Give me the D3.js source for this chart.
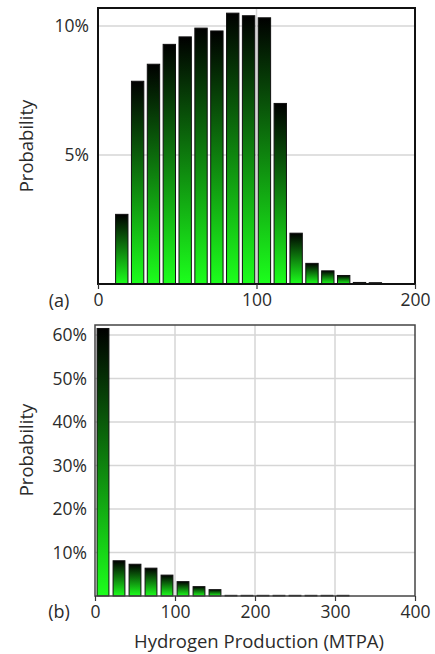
<!DOCTYPE html>
<html>
<head>
<meta charset="utf-8">
<script src="https://cdn.jsdelivr.net/npm/d3@7"></script>
<style>
  html, body { margin: 0; padding: 0; background: #fff; }
  svg { display: block; }
  text { font-family: "Open Sans", "Liberation Sans", sans-serif; fill: #2b2b2b; }
</style>
</head>
<body>
<svg id="chart" width="435" height="654"></svg>
<script>
// ---- Data (panel a) ----
const binStartsA = [10, 20, 30, 40, 50, 60, 70, 80, 90, 100, 110, 120, 130, 140, 150, 160, 170];
const probA = [0.0270, 0.0786, 0.0852, 0.0929, 0.0958, 0.0992, 0.0981, 0.1050, 0.1040, 0.1032,
               0.0700, 0.0197, 0.0080, 0.0051, 0.0033, 0.0006, 0.0005];
const xTicksA = [0, 100, 200];
const yTicksA = [0.05, 0.10];

// ---- Data (panel b) ----
const binStartsB = [0, 20, 40, 60, 80, 100, 120, 140, 160, 180, 200, 220, 240, 260, 280, 300];
const probB = [0.615, 0.081, 0.073, 0.064, 0.048, 0.033, 0.0215, 0.0146,
               0.0015, 0.0015, 0.0015, 0.0015, 0.0015, 0.0015, 0.0015, 0.0015];
const xTicksB = [0, 100, 200, 300, 400];
const yTicksB = [0.1, 0.2, 0.3, 0.4, 0.5, 0.6];

const xTitle = "Hydrogen Production (MTPA)";
const yTitle = "Probability";

const svg = d3.select("#chart");
const defs = svg.append("defs");
const grad = defs.append("linearGradient")
  .attr("id", "barGrad").attr("x1", 0).attr("y1", 0).attr("x2", 0).attr("y2", 1);
grad.append("stop").attr("offset", "0%").attr("stop-color", "#000000");
grad.append("stop").attr("offset", "100%").attr("stop-color", "#1cff1c");

function panel(opt) {
  const x = d3.scaleLinear().domain(opt.xDomain).range([opt.left, opt.right]);
  const y = d3.scaleLinear().domain(opt.yDomain).range([opt.bottom, opt.top]);
  const g = svg.append("g");

  // gridlines
  g.append("g").selectAll("line.h").data(opt.yTicks).join("line")
    .attr("x1", opt.left).attr("x2", opt.right)
    .attr("y1", d => y(d)).attr("y2", d => y(d))
    .attr("stroke", "#d6d6d6").attr("stroke-width", 1.5);
  g.append("g").selectAll("line.v").data(opt.xTicks.slice(1, -1)).join("line")
    .attr("x1", d => x(d)).attr("x2", d => x(d))
    .attr("y1", opt.top).attr("y2", opt.bottom)
    .attr("stroke", "#d6d6d6").attr("stroke-width", 1.5);

  // bars
  g.append("g").selectAll("rect").data(opt.starts).join("rect")
    .attr("x", d => x(d + opt.inset))
    .attr("width", d => x(d + opt.bin - opt.inset) - x(d + opt.inset))
    .attr("y", (d, i) => y(opt.values[i]))
    .attr("height", (d, i) => Math.max(0.5, opt.bottom - y(opt.values[i])))
    .attr("fill", "url(#barGrad)")
    .attr("stroke", "#111").attr("stroke-width", 1);

  // frame
  g.append("rect")
    .attr("x", opt.left).attr("y", opt.top)
    .attr("width", opt.right - opt.left).attr("height", opt.bottom - opt.top)
    .attr("fill", "none").attr("stroke", opt.frameColor).attr("stroke-width", opt.frameWidth);

  // x axis
  const xa = g.append("g").attr("transform", `translate(0,${opt.bottom})`)
    .call(d3.axisBottom(x).tickValues(opt.xTicks).tickSize(5).tickPadding(5).tickFormat(d3.format("d")));
  xa.select(".domain").remove();
  xa.selectAll(".tick line").attr("stroke", "#333").attr("stroke-width", 1.2);
  xa.selectAll("text").attr("font-size", 17.5).attr("fill", "#2b2b2b")
    .style("font-family", '"Open Sans", sans-serif');

  // y axis
  const ya = g.append("g").attr("transform", `translate(${opt.left},0)`)
    .call(d3.axisLeft(y).tickValues(opt.yTicks).tickSize(0).tickPadding(opt.yPad).tickFormat(d3.format(".0%")));
  ya.select(".domain").remove();
  ya.selectAll("text").attr("font-size", 17.5).attr("fill", "#2b2b2b")
    .style("font-family", '"Open Sans", sans-serif');

  // y title
  g.append("text")
    .attr("transform", `translate(${opt.yTitleX},${opt.yTitleY}) rotate(-90)`)
    .attr("text-anchor", "middle").attr("dominant-baseline", "central")
    .attr("font-size", 18.5).text(yTitle);

  // panel label
  g.append("text").attr("x", opt.labelX).attr("y", opt.labelY)
    .attr("text-anchor", "middle").attr("font-size", 18).text(opt.label);
  return { x, y };
}

panel({
  xDomain: [0, 200], yDomain: [0, 0.107],
  left: 98, right: 415, top: 8, bottom: 284,
  starts: binStartsA, values: probA, bin: 10, inset: 1.1,
  xTicks: xTicksA, yTicks: yTicksA, yPad: 9,
  frameColor: "#111", frameWidth: 2,
  yTitleX: 25, yTitleY: 146, label: "(a)", labelX: 59, labelY: 307
});

panel({
  xDomain: [0, 400], yDomain: [0, 0.623],
  left: 95, right: 415, top: 325, bottom: 596,
  starts: binStartsB, values: probB, bin: 20, inset: 2.6,
  xTicks: xTicksB, yTicks: yTicksB, yPad: 8,
  frameColor: "#444", frameWidth: 1.5,
  yTitleX: 25, yTitleY: 450, label: "(b)", labelX: 59, labelY: 618
});

svg.append("text").attr("x", 259).attr("y", 648)
  .attr("text-anchor", "middle").attr("font-size", 18.5).text(xTitle);
</script>
</body>
</html>
